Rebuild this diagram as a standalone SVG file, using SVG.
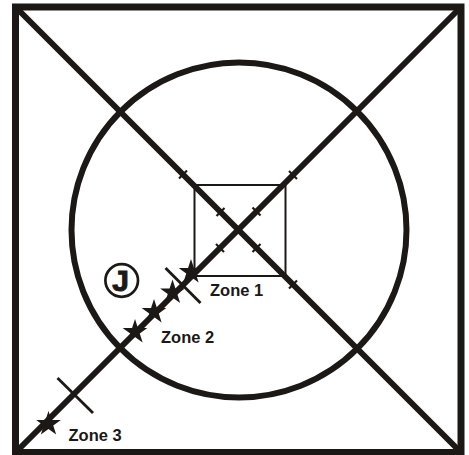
<svg xmlns="http://www.w3.org/2000/svg" xmlns:xlink="http://www.w3.org/1999/xlink" width="469" height="455" viewBox="0 0 469 455">
  <style>
    .ink { stroke: #1c1816; fill: none; }
    .frame { stroke-width: 7; }
    .diag { stroke-width: 6; stroke-linecap: butt; }
    .ring { stroke-width: 6; }
    .box { stroke-width: 2; }
    .tick { stroke-width: 2.2; }
    .cross { stroke-width: 2.8; }
    .star { fill: #1c1816; stroke: none; }
    .label { font-family: "Liberation Sans", Arial, sans-serif; font-weight: bold; font-size: 16.5px; fill: #1c1816; }
    .jlabel { font-family: "Liberation Sans", Arial, sans-serif; font-weight: bold; font-size: 30px; fill: #1c1816; stroke: #1c1816; stroke-width: 1; }
  </style>
  <defs>
    <path id="star" d="M0,-13 L2.94,-4.05 L12.36,-4.02 L4.76,1.55 L7.64,10.52 L0,5 L-7.64,10.52 L-4.76,1.55 L-12.36,-4.02 L-2.94,-4.05 Z"/>
    <path id="tickA" d="M-4,4 L4,-4"/>
    <path id="tickB" d="M-4,-4 L4,4"/>
  </defs>
  <rect width="469" height="455" fill="#ffffff"/>

  <g id="frame">
    <rect class="ink frame" x="15.5" y="7" width="445.5" height="445.5"/>
  </g>

  <g id="ring">
    <circle class="ink ring" cx="239" cy="230" r="167.5"/>
  </g>

  <g id="center-box">
    <rect class="ink box" x="194.5" y="185" width="91" height="91"/>
  </g>

  <g id="connectors">
    <line class="ink diag" x1="17" y1="8.5" x2="459.5" y2="451"/>
    <line class="ink diag" x1="17" y1="451" x2="459.5" y2="8.5"/>
    <g class="ink tick">
      <use xlink:href="#tickA" x="183" y="174.5"/>
      <use xlink:href="#tickA" x="220.5" y="212"/>
      <use xlink:href="#tickA" x="256.5" y="248"/>
      <use xlink:href="#tickA" x="293" y="284.5"/>
      <use xlink:href="#tickB" x="293" y="175"/>
      <use xlink:href="#tickB" x="256.5" y="211.5"/>
      <use xlink:href="#tickB" x="220" y="248"/>
    </g>
  </g>

  <g id="zone1">
    <line class="ink cross" x1="165.5" y1="268" x2="200.5" y2="303"/>
    <use class="star" xlink:href="#star" x="191" y="272"/>
    <text class="label" x="210" y="296">Zone 1</text>
  </g>

  <g id="zone2">
    <use class="star" xlink:href="#star" x="172.5" y="292.5"/>
    <use class="star" xlink:href="#star" x="154" y="312"/>
    <use class="star" xlink:href="#star" x="135" y="332"/>
    <text class="label" x="161" y="343">Zone 2</text>
  </g>

  <g id="zone3">
    <line class="ink cross" x1="57.5" y1="378" x2="93" y2="413"/>
    <use class="star" xlink:href="#star" x="48.5" y="424"/>
    <text class="label" x="68.5" y="441">Zone 3</text>
  </g>

  <g id="judge">
    <circle class="ink" cx="121.7" cy="280.5" r="16.3" stroke-width="2.7"/>
    <text class="jlabel" x="120.5" y="291" text-anchor="middle">J</text>
  </g>
</svg>
